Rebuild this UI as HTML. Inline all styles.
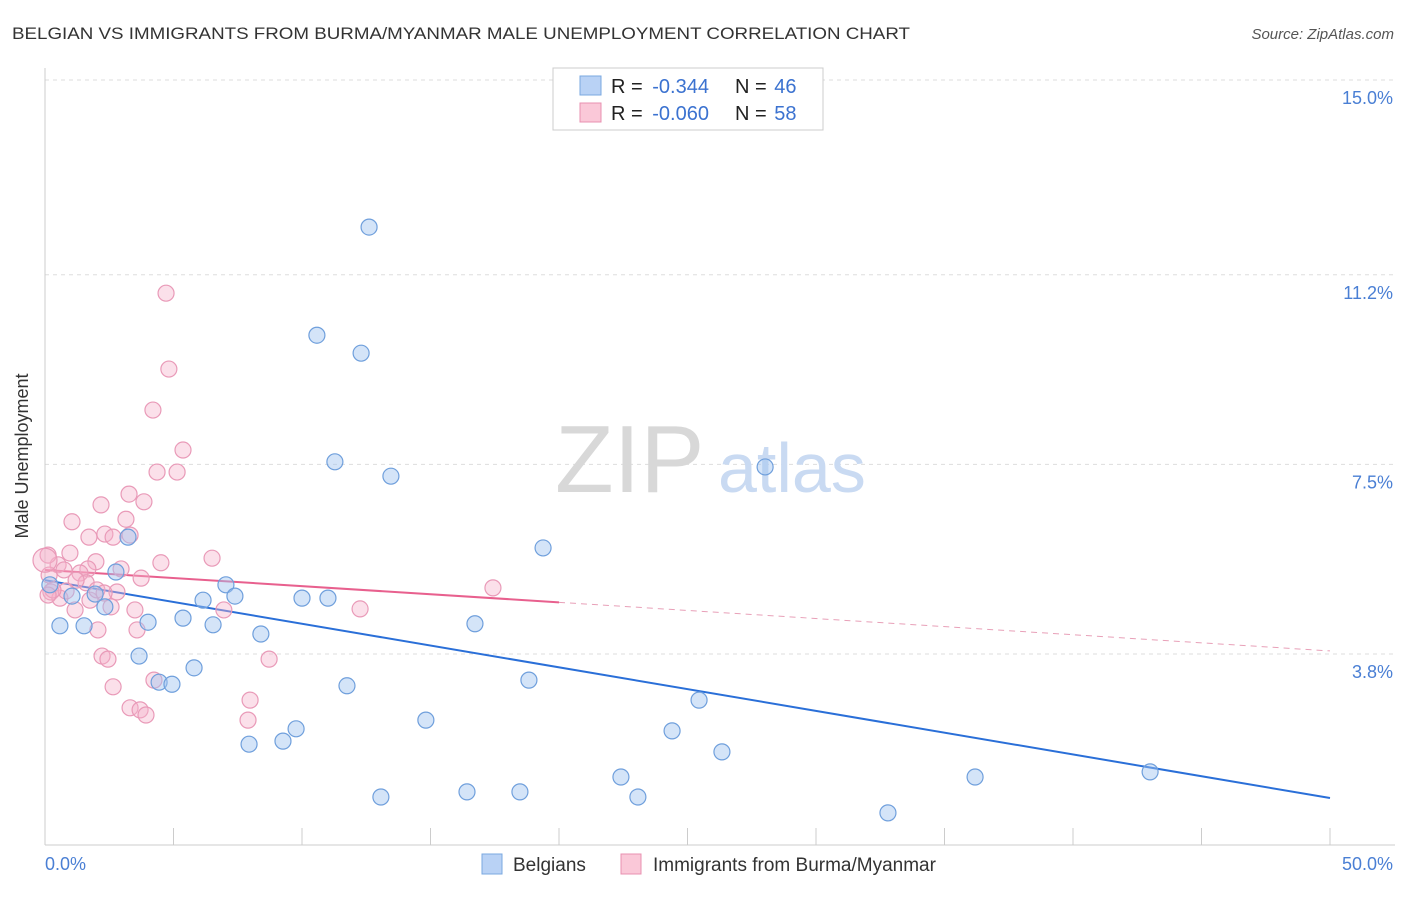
<!DOCTYPE html>
<html><head><meta charset="utf-8"><style>
body{margin:0;background:#fff;font-family:"Liberation Sans",sans-serif;}
svg text{font-family:"Liberation Sans",sans-serif;}
</style></head><body>
<svg width="1406" height="892" xmlns="http://www.w3.org/2000/svg">
<text x="12" y="39" font-size="17" fill="#333" textLength="898" lengthAdjust="spacingAndGlyphs">BELGIAN VS IMMIGRANTS FROM BURMA/MYANMAR MALE UNEMPLOYMENT CORRELATION CHART</text>
<text x="1394" y="39" font-size="15" fill="#555" text-anchor="end" font-style="italic">Source: ZipAtlas.com</text>
<g id="grid"></g>
<text x="555" y="492" font-size="96" fill="#d8d8d8" font-family="Liberation Serif">ZIP</text>
<text x="718" y="492" font-size="70" fill="#c9daf2">atlas</text>
<line x1="45" y1="68" x2="45" y2="845" stroke="#ccc"/>
<line x1="45" y1="845" x2="1395" y2="845" stroke="#ccc"/>
<g id="ticks"></g>
<g id="trends"></g>
<g id="pts"></g>
<text x="28" y="456" font-size="18" fill="#333" text-anchor="middle" transform="rotate(-90 28 456)">Male Unemployment</text>
<text x="45" y="870" font-size="18" fill="#4a7fd4">0.0%</text>
<text x="1393" y="870" font-size="18" fill="#4a7fd4" text-anchor="end">50.0%</text>
<g>
<rect x="553" y="68" width="270" height="62" fill="#fff" stroke="#ccc"/>
<rect x="580" y="76" width="21" height="19" fill="#b9d2f5" stroke="#7aa8e0"/>
<rect x="580" y="103" width="21" height="19" fill="#fac8d8" stroke="#e890b0"/>
<text x="611" y="93" font-size="20" fill="#222">R = <tspan dx="4" fill="#3b72d0">-0.344</tspan></text>
<text x="735" y="93" font-size="20" fill="#222">N = <tspan dx="2" fill="#3b72d0">46</tspan></text>
<text x="611" y="120" font-size="20" fill="#222">R = <tspan dx="4" fill="#3b72d0">-0.060</tspan></text>
<text x="735" y="120" font-size="20" fill="#222">N = <tspan dx="2" fill="#3b72d0">58</tspan></text>
</g>
<g>
<rect x="482" y="854" width="20" height="20" fill="#b9d2f5" stroke="#7aa8e0"/>
<text x="513" y="871" font-size="19" fill="#333">Belgians</text>
<rect x="621" y="854" width="20" height="20" fill="#fac8d8" stroke="#e890b0"/>
<text x="653" y="871" font-size="19" fill="#333">Immigrants from Burma/Myanmar</text>
</g>
</svg>
<script>
const yTicks=[15.0,11.2,7.5,3.8];
const yTickLabels=["15.0%","11.2%","7.5%","3.8%"];
const xTickVals=[0,5,10,15,20,25,30,35,40,45,50];
const blueX=[12.61,10.58,12.30,11.28,13.46,28.02,19.38,3.23,2.76,7.04,7.39,6.15,10.00,11.01,0.58,1.52,4.01,5.37,6.54,8.40,16.73,3.66,5.80,4.44,4.94,11.75,18.83,25.45,14.82,9.77,9.26,7.94,24.40,26.34,22.41,36.19,43.00,13.07,16.42,18.48,23.07,32.80,2.33,1.95,0.19,1.05];
const blueY=[12.13,10.02,9.67,7.55,7.27,7.45,5.87,6.08,5.40,5.15,4.93,4.85,4.89,4.89,4.35,4.35,4.42,4.50,4.37,4.19,4.39,3.76,3.53,3.25,3.21,3.18,3.29,2.90,2.51,2.34,2.10,2.04,2.30,1.89,1.40,1.40,1.50,1.01,1.11,1.11,1.01,0.70,4.72,4.97,5.15,4.93];
const pinkX=[4.71,4.82,4.20,5.37,4.36,5.14,3.27,3.85,2.18,3.15,1.05,1.71,2.33,2.65,0.97,6.50,4.51,1.98,0.51,0.74,1.67,2.96,1.36,3.74,0.16,1.60,2.80,0.23,0.58,1.75,2.57,3.50,6.96,12.26,17.43,3.58,2.06,2.22,2.45,8.72,4.24,2.65,7.98,3.31,3.70,3.93,7.90,0.12,0.0,1.21,0.82,0.31,2.02,1.17,0.12,2.30,3.31];
const pinkY=[10.84,9.36,8.56,7.78,7.35,7.35,6.92,6.77,6.71,6.43,6.38,6.08,6.14,6.08,5.77,5.67,5.58,5.60,5.54,5.44,5.46,5.46,5.38,5.28,5.34,5.19,5.01,5.01,4.89,4.85,4.72,4.66,4.66,4.68,5.09,4.27,4.27,3.76,3.70,3.70,3.29,3.16,2.90,2.75,2.71,2.61,2.51,5.73,5.63,5.24,5.03,5.05,5.05,4.66,4.95,4.99,6.12];
const blueTrend=[5.24,0.99];
const pinkTrend=[5.44,3.86];
const pinkSolidEnd=20;
const X=v=>45+v*25.7, Y=v=>80+(15-v)*51.25;
const NS="http://www.w3.org/2000/svg";
function mk(t,a,p){const e=document.createElementNS(NS,t);for(const k in a)e.setAttribute(k,a[k]);p.appendChild(e);return e;}
const grid=document.getElementById('grid'),ticks=document.getElementById('ticks');
yTicks.forEach((v,i)=>{
 const l=mk('line',{x1:45,x2:1395,y1:Y(v),y2:Y(v),stroke:'#ddd','stroke-dasharray':'4,4'},grid);
 
 
 const t=mk('text',{x:1393,y:Y(v)+24,'font-size':18,fill:'#4a7fd4','text-anchor':'end'},ticks);
 t.textContent=yTickLabels[i];
 
 
});
xTickVals.forEach(v=>{
 const l=mk('line',{x1:X(v),x2:X(v),y1:828,y2:845,stroke:'#ccc'},ticks);
 
 
});
const pts=document.getElementById('pts');
pinkX.forEach((x,i)=>{
 const c=mk('circle',{cx:X(x),cy:Y(pinkY[i]),r:(i==48?12:8),fill:'rgba(246,178,202,0.4)',stroke:'#e99ab8','stroke-width':1.2},pts);
 
 
});
blueX.forEach((x,i)=>{
 const c=mk('circle',{cx:X(x),cy:Y(blueY[i]),r:8,fill:'rgba(160,195,240,0.45)',stroke:'#6f9fdc','stroke-width':1.2},pts);
 
 
});
const tr=document.getElementById('trends');
const pl=v=>pinkTrend[0]+(pinkTrend[1]-pinkTrend[0])*v/50;
let e=mk('line',{x1:X(0),y1:Y(blueTrend[0]),x2:X(50),y2:Y(blueTrend[1]),stroke:'#2a6fd8','stroke-width':2},tr);


e=mk('line',{x1:X(0),y1:Y(pl(0)),x2:X(pinkSolidEnd),y2:Y(pl(pinkSolidEnd)),stroke:'#e8608e','stroke-width':2},tr);


e=mk('line',{x1:X(pinkSolidEnd),y1:Y(pl(pinkSolidEnd)),x2:X(50),y2:Y(pl(50)),stroke:'#e8a0b8','stroke-width':1,'stroke-dasharray':'6,5'},tr);


</script>
</body></html>
